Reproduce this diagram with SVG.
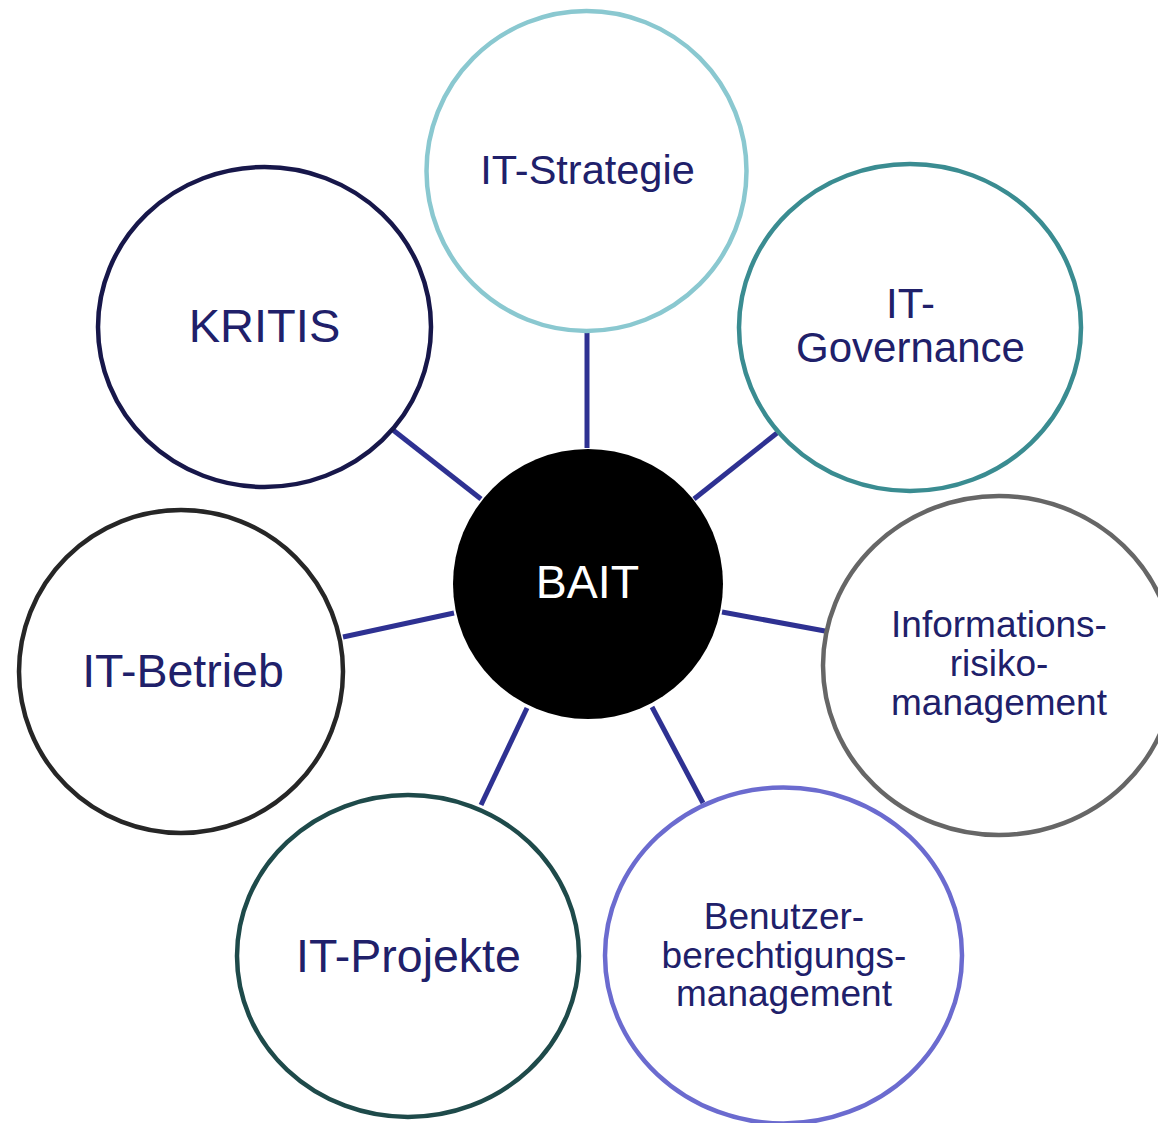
<svg xmlns="http://www.w3.org/2000/svg" width="1158" height="1123" viewBox="0 0 1158 1123">
<style>
.n{fill:#ffffff;stroke-width:4.5}
.t{font-family:"Liberation Sans",Arial,sans-serif;fill:#20206a;text-anchor:middle}
.c line{stroke:#2e3192;stroke-width:5}
</style>
<rect width="1158" height="1123" fill="#ffffff"/>
<g id="connectors" class="c">
<line x1="587" y1="333" x2="587" y2="448"/>
<line x1="393" y1="430" x2="481" y2="499"/>
<line x1="777" y1="433" x2="694" y2="499"/>
<line x1="343" y1="637" x2="454" y2="613"/>
<line x1="722" y1="612" x2="825" y2="631"/>
<line x1="652" y1="707" x2="703" y2="803"/>
<line x1="527" y1="708" x2="481" y2="805"/>
</g>
<g id="it-strategie">
<ellipse class="n" cx="586.5" cy="171" rx="160" ry="160" stroke="#8ac8d0"/>
<text class="t" x="587.5" y="184" font-size="41.5">IT-Strategie</text>
</g>
<g id="it-governance">
<ellipse class="n" cx="910" cy="327.5" rx="171" ry="163.5" stroke="#3a8c91"/>
<text class="t" x="910.5" y="318" font-size="42">IT-</text>
<text class="t" x="910.5" y="362" font-size="42">Governance</text>
</g>
<g id="kritis">
<ellipse class="n" cx="264.5" cy="327" rx="166.5" ry="160" stroke="#17174a"/>
<text class="t" x="264.5" y="342" font-size="47">KRITIS</text>
</g>
<g id="informationsrisikomanagement">
<ellipse class="n" cx="999" cy="665.5" rx="176" ry="169.5" stroke="#666666"/>
<text class="t" x="999" y="637" font-size="37">Informations-</text>
<text class="t" x="999" y="676" font-size="37">risiko-</text>
<text class="t" x="999" y="715" font-size="37">management</text>
</g>
<g id="it-betrieb">
<ellipse class="n" cx="181" cy="671.5" rx="162" ry="161.5" stroke="#262626"/>
<text class="t" x="183" y="687" font-size="46.5">IT-Betrieb</text>
</g>
<g id="benutzerberechtigungsmanagement">
<ellipse class="n" cx="783.5" cy="955.5" rx="178.5" ry="168" stroke="#6b6bcf"/>
<text class="t" x="784" y="929" font-size="37">Benutzer-</text>
<text class="t" x="784" y="967.5" font-size="37">berechtigungs-</text>
<text class="t" x="784" y="1006" font-size="37">management</text>
</g>
<g id="it-projekte">
<ellipse class="n" cx="408" cy="956" rx="171" ry="161" stroke="#1e4a4a"/>
<text class="t" x="408.5" y="972" font-size="46.5">IT-Projekte</text>
</g>
<g id="bait">
<circle cx="588" cy="584" r="135" fill="#000000"/>
<text class="t" x="587.5" y="598" font-size="46.5" style="fill:#ffffff">BAIT</text>
</g>
</svg>
